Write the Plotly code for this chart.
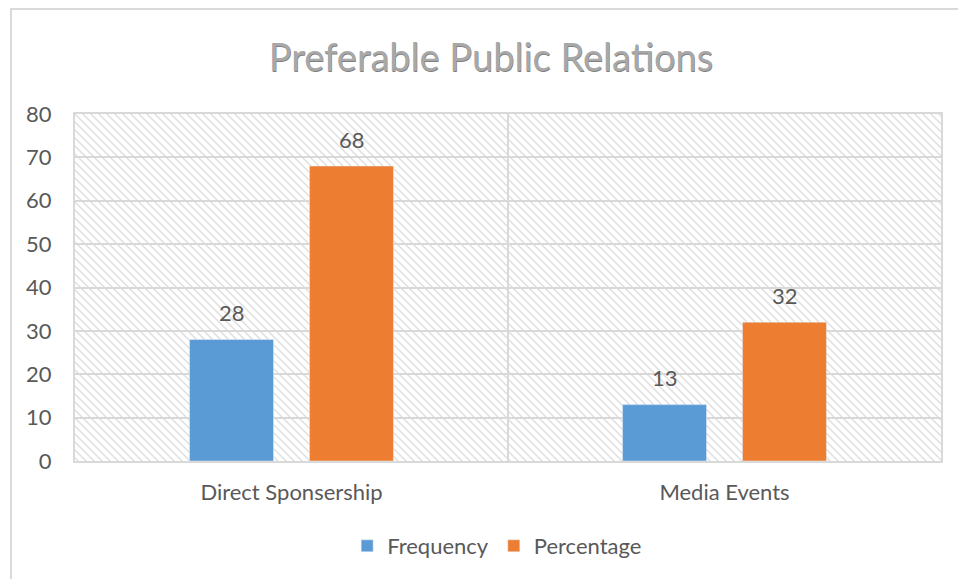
import base64
import plotly.graph_objects as go

# Chart data
categories = ["Direct Sponsership", "Media Events"]
frequency = [28, 13]
percentage = [68, 32]
series_names = ["Frequency", "Percentage"]
y_ticks = [0, 10, 20, 30, 40, 50, 60, 70, 80]

BLUE = "#5B9BD5"
ORANGE = "#ED7D31"
TEXT = "#595959"
GRID = "#D9D9D9"
FONT = "Lato, 'Open Sans', sans-serif"
FS = 22

W, H = 958, 579
L, R, T, B = 75, 17, 114, 118
PW, PH = W - L - R, H - T - B

# Diagonal hatch used as the plot-area fill
svg = f"""<svg xmlns='http://www.w3.org/2000/svg' width='{PW}' height='{PH}' viewBox='0 0 {PW} {PH}'>
<defs><pattern id='h' width='8' height='8' patternUnits='userSpaceOnUse'>
<path d='M-2,-2 L10,10 M-2,6 L2,10 M6,-2 L10,2' stroke='#DFDFDF' stroke-width='1.5'/>
</pattern></defs>
<rect width='100%' height='100%' fill='white'/>
<rect width='100%' height='100%' fill='url(#h)'/>
</svg>"""
hatch_src = "data:image/svg+xml;base64," + base64.b64encode(svg.encode()).decode()

fig = go.Figure()
fig.add_trace(go.Bar(name=series_names[0], x=categories, y=frequency, marker_color=BLUE))
fig.add_trace(go.Bar(name=series_names[1], x=categories, y=percentage, marker_color=ORANGE))

# Value labels above each bar
slot_px = 120  # horizontal offset of each bar centre from the category centre
for vals, shift in ((frequency, -slot_px / 2), (percentage, slot_px / 2)):
    for c, v in zip(categories, vals):
        fig.add_annotation(x=c, y=v, xref="x", yref="y", text=str(v), showarrow=False,
                           xshift=shift, yshift=27, yanchor="middle",
                           font=dict(family=FONT, size=FS, color=TEXT))

fig.add_layout_image(source=hatch_src, xref="x domain", yref="y domain", x=0, y=1,
                     sizex=1, sizey=1, xanchor="left", yanchor="top",
                     sizing="stretch", layer="below")

# Outer chart frame
fig.add_shape(type="rect", xref="paper", yref="paper",
              x0=(11 - L) / PW, x1=1.2, y0=-0.5, y1=1 + (T - 9) / PH,
              line=dict(color=GRID, width=2), fillcolor="rgba(0,0,0,0)", layer="below")

fig.update_layout(
    width=W, height=H,
    margin=dict(l=L, r=R, t=T, b=B),
    paper_bgcolor="white", plot_bgcolor="white",
    barmode="group", bargap=0.446, bargroupgap=0.3,
    title=dict(text="Preferable Public Relations", x=491 / W, xanchor="center",
               y=1 - 58 / H, yanchor="middle", yref="container",
               font=dict(family=FONT, size=38, color="#A8A8A8",
                         shadow="0.5px 0.5px 0.5px #7F7F7F")),
    font=dict(family=FONT, size=FS, color=TEXT),
    showlegend=True,
    legend=dict(orientation="h", x=467 / W, xanchor="center", y=-(546 - T - PH) / PH,
                yanchor="middle", yref="paper", font=dict(family=FONT, size=FS, color=TEXT),
                itemwidth=30, traceorder="normal"),
    xaxis=dict(type="category", tickson="boundaries", showgrid=True, gridcolor=GRID,
               gridwidth=2, showline=True, mirror=True, linecolor=GRID, linewidth=2,
               ticks="", ticklabelstandoff=11, tickfont=dict(family=FONT, size=FS, color=TEXT)),
    yaxis=dict(range=[0, 80], tickvals=y_ticks, showgrid=True, gridcolor=GRID, gridwidth=2,
               showline=True, mirror=True, linecolor=GRID, linewidth=2, zeroline=False,
               ticks="", ticklabelstandoff=17, tickfont=dict(family=FONT, size=FS, color=TEXT)),
)

fig.write_html("out.html")
